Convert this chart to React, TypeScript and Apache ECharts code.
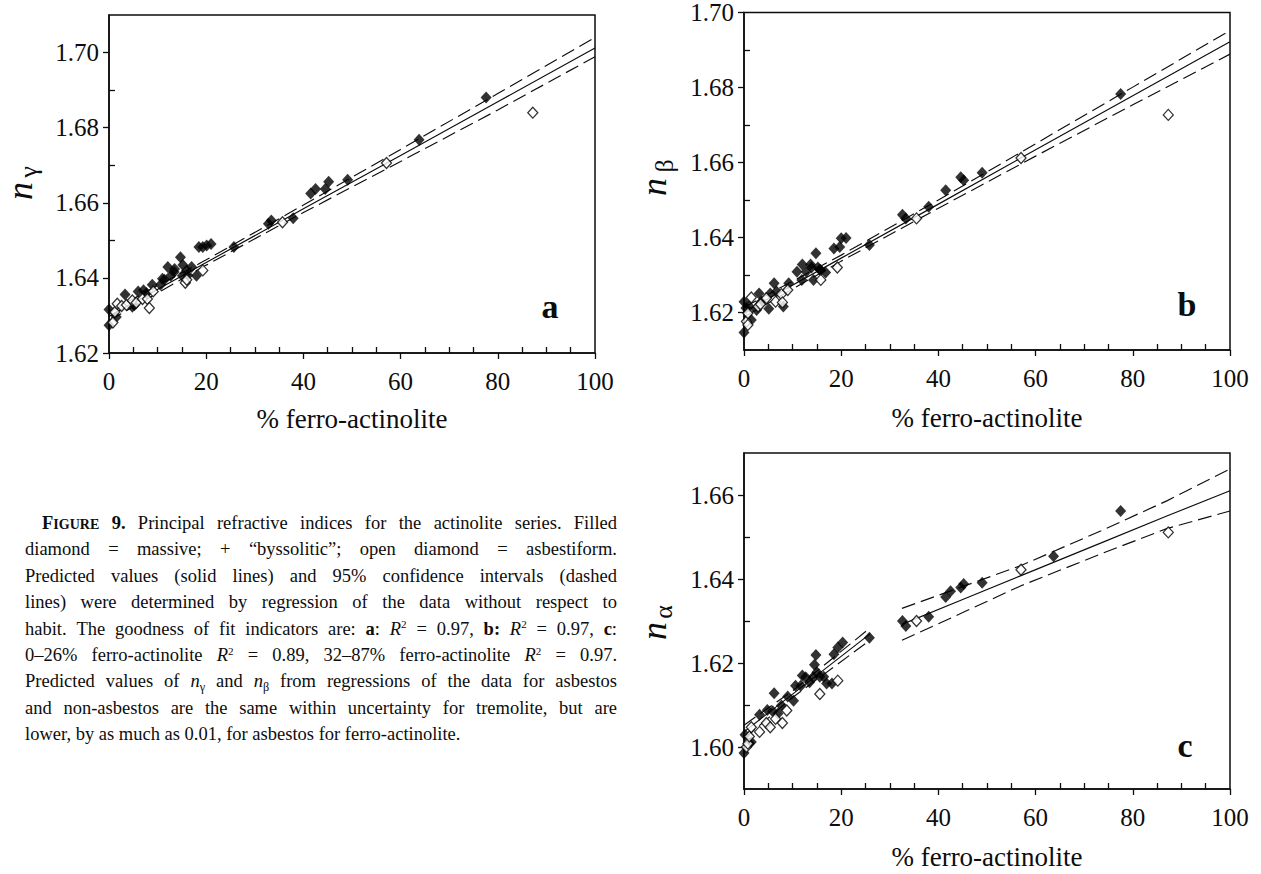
import React, { useEffect, useRef } from "react";
import * as echarts from "echarts";

// ---------------- Panel a : n_gamma ----------------
const aFilled: number[][] = [
  [0, 1.6316], [0, 1.6274], [1.5, 1.6296], [3.3, 1.6356], [4.8, 1.6323], [5.2, 1.6327],
  [6, 1.6364], [7.1, 1.6367], [7.7, 1.636], [8.9, 1.6382], [10.6, 1.6382], [11, 1.6398],
  [11.4, 1.6395], [12.1, 1.6429], [12.7, 1.6406], [13.4, 1.6416], [13.5, 1.6424], [14.7, 1.6455],
  [15.1, 1.6406], [15.2, 1.6434], [16, 1.642], [16.2, 1.6407], [17, 1.6429], [18, 1.6406],
  [18.5, 1.6482], [19.3, 1.6482], [20.1, 1.6486], [21, 1.649], [25.7, 1.6482], [32.8, 1.6544],
  [33.4, 1.6553], [37.9, 1.6559], [41.5, 1.6625], [42.5, 1.6637], [44.5, 1.6637], [45.2, 1.6656],
  [49.1, 1.6661], [63.8, 1.6768], [77.6, 1.688],
];
const aOpen: number[][] = [
  [0.8, 1.6281], [1.2, 1.6309], [1.7, 1.6331], [2.6, 1.6325], [3.6, 1.6328], [4.8, 1.634],
  [5.6, 1.6334], [6.9, 1.6344], [7.9, 1.6344], [8.3, 1.632], [9.1, 1.6364], [15.7, 1.6387],
  [16, 1.6395], [19.3, 1.642], [35.7, 1.6548], [57.1, 1.6706], [87.2, 1.684],
];
const aFitX = [0, 20, 40, 60, 80, 100];
const aFit = [1.6298, 1.6441, 1.6584, 1.6726, 1.6869, 1.7012];
const aUpper = [1.631, 1.6448, 1.6594, 1.6742, 1.6891, 1.704];
const aLower = [1.6286, 1.6434, 1.6574, 1.671, 1.6847, 1.6989];
const aYTicks = [1.62, 1.64, 1.66, 1.68, 1.7];
const aYMinor = [1.63, 1.65, 1.67, 1.69];

// ---------------- Panel b : n_beta ----------------
const bFilled: number[][] = [
  [0, 1.6147], [0, 1.6229], [0.4, 1.6212], [1.1, 1.6216], [1.5, 1.618], [2.6, 1.6207],
  [3.1, 1.6251], [3.6, 1.6229], [5.1, 1.621], [5.4, 1.6251], [6.2, 1.6278], [6.7, 1.6256],
  [8.1, 1.6216], [9.2, 1.6278], [10.9, 1.6309], [11.9, 1.6287], [12, 1.6328], [12.8, 1.6309],
  [13.7, 1.6328], [13.9, 1.632], [14.3, 1.6287], [14.8, 1.6358], [15.2, 1.632], [15.6, 1.6315],
  [15.8, 1.6313], [16.8, 1.6307], [18.5, 1.6371], [19.7, 1.6375], [20, 1.6398], [21, 1.6399],
  [25.8, 1.638], [32.6, 1.6461], [33.3, 1.6451], [38, 1.6482], [41.5, 1.6526], [44.6, 1.6561],
  [45.2, 1.6553], [49, 1.6573], [77.5, 1.6783],
];
const bOpen: number[][] = [
  [0.5, 1.6176], [0.8, 1.6167], [0.8, 1.6198], [1.5, 1.624], [2.9, 1.6216], [3.4, 1.6222],
  [4.6, 1.6238], [6.5, 1.6229], [7.7, 1.6249], [7.9, 1.6227], [9, 1.626], [15.8, 1.6287],
  [19.2, 1.632], [35.5, 1.6451], [57, 1.6612], [87.3, 1.6727],
];
const bFitX = [0, 20, 40, 60, 80, 100];
const bFit = [1.6201, 1.6345, 1.6489, 1.6634, 1.6778, 1.6922];
const bUpper = [1.6214, 1.6353, 1.65, 1.665, 1.6801, 1.6952];
const bLower = [1.6188, 1.6337, 1.6478, 1.6617, 1.6754, 1.6889];
const bYTicks = [1.62, 1.64, 1.66, 1.68, 1.7];
const bYMinor = [1.63, 1.65, 1.67, 1.69];

// ---------------- Panel c : n_alpha ----------------
const cFilled: number[][] = [
  [0, 1.5986], [0.2, 1.6029], [1.1, 1.6009], [1.5, 1.6012], [3.2, 1.6077], [4.8, 1.6088],
  [5.9, 1.6085], [6.2, 1.6128], [7, 1.608], [7.7, 1.6099], [9, 1.612], [10.2, 1.611],
  [10.6, 1.6146], [11.7, 1.6146], [12, 1.617], [12.7, 1.6166], [13.5, 1.6154], [14.2, 1.6166],
  [14.5, 1.6196], [14.8, 1.6219], [15, 1.6178], [15.6, 1.6167], [16.4, 1.6167], [17, 1.6151],
  [18.1, 1.6151], [18.5, 1.6221], [19.3, 1.6237], [20.3, 1.6249], [25.8, 1.626], [32.6, 1.63],
  [33.3, 1.6288], [38, 1.631], [41.5, 1.6357], [42.5, 1.6371], [44.6, 1.638], [45.2, 1.6388],
  [49, 1.6391], [63.7, 1.6454], [77.5, 1.6562],
];
const cOpen: number[][] = [
  [0.5, 1.6], [0.8, 1.6008], [1.1, 1.6025], [1.5, 1.6047], [3.2, 1.6036], [4.6, 1.6057],
  [5.4, 1.6047], [6.5, 1.6067], [7.9, 1.6057], [8.8, 1.6087], [15.6, 1.6126], [19.3, 1.6158],
  [35.5, 1.63], [57, 1.6422], [87.3, 1.6511],
];
const cFit1X = [0, 10, 26];
const cFit1 = [1.6036, 1.6126, 1.627];
const cUpper1 = [1.6052, 1.6134, 1.6284];
const cLower1 = [1.602, 1.6118, 1.6255];
const cFit2X = [32.5, 45, 57, 73.5, 87, 100];
const cFit2 = [1.6292, 1.6351, 1.6408, 1.6486, 1.655, 1.661];
const cUpper2 = [1.633, 1.6382, 1.6432, 1.6515, 1.6586, 1.6662];
const cLower2 = [1.6254, 1.632, 1.6384, 1.646, 1.652, 1.6562];
const cYTicks = [1.6, 1.62, 1.64, 1.66];
const cYMinor = [1.61, 1.63, 1.65];

// ---------------- shared x axis ticks ----------------
const xTicks = [0, 20, 40, 60, 80, 100];
const xMinor = [5, 10, 15, 25, 30, 35, 45, 50, 55, 65, 70, 75, 85, 90, 95];
const xTitle = "% ferro-actinolite";

// ---------------- caption ----------------
type Piece = [string, string];
const captionLines: Piece[][] = [
  [["F", "b"], ["IGURE", "sc"], [" 9.", "b"], [" Principal refractive indices for the actinolite series. Filled", "r"]],
  [["diamond = massive; + \u201cbyssolitic\u201d; open diamond = asbestiform.", "r"]],
  [["Predicted values (solid lines) and 95% confidence intervals (dashed", "r"]],
  [["lines) were determined by regression of the data without respect to", "r"]],
  [
    ["habit. The goodness of fit indicators are: ", "r"], ["a", "b"], [": ", "r"], ["R", "i"], ["2", "sup"],
    [" = 0.97, ", "r"], ["b:", "b"], [" ", "r"], ["R", "i"], ["2", "sup"], [" = 0.97, ", "r"], ["c", "b"], [":", "r"],
  ],
  [
    ["0\u201326% ferro-actinolite ", "r"], ["R", "i"], ["2", "sup"],
    [" = 0.89, 32\u201387% ferro-actinolite ", "r"], ["R", "i"], ["2", "sup"], [" = 0.97.", "r"],
  ],
  [
    ["Predicted values of ", "r"], ["n", "i"], ["\u03b3", "sub"], [" and ", "r"], ["n", "i"], ["\u03b2", "sub"],
    [" from regressions of the data for asbestos", "r"],
  ],
  [["and non-asbestos are the same within uncertainty for tremolite, but are", "r"]],
  [["lower, by as much as 0.01, for asbestos for ferro-actinolite.", "r"]],
];

const INK = "#0d0d0d";
const SERIF = "'Liberation Serif', 'Times New Roman', Times, serif";

const layouts = [
  { left: 109, top: 15, width: 486, height: 338 },
  { left: 744, top: 12, width: 486, height: 338 },
  { left: 744, top: 453, width: 486, height: 336 },
];

const zip = (xs: number[], ys: number[]) => xs.map((x, i) => [x, ys[i]]);

const panels = [
  {
    yMin: 1.62, yMax: 1.71, yTicks: aYTicks, yMinor: aYMinor, filled: aFilled, open: aOpen,
    fits: [{ x: aFitX, mid: aFit, up: aUpper, lo: aLower }],
    letter: "a", greek: "\u03b3", letterPos: [550, 306], nPos: [20, 191], gPos: [28, 172], xNamePos: [352, 419],
  },
  {
    yMin: 1.61, yMax: 1.7, yTicks: bYTicks, yMinor: bYMinor, filled: bFilled, open: bOpen,
    fits: [{ x: bFitX, mid: bFit, up: bUpper, lo: bLower }],
    letter: "b", greek: "\u03b2", letterPos: [1187, 304], nPos: [654, 187], gPos: [664, 166], xNamePos: [987, 418],
  },
  {
    yMin: 1.59, yMax: 1.67, yTicks: cYTicks, yMinor: cYMinor, filled: cFilled, open: cOpen,
    fits: [
      { x: cFit1X, mid: cFit1, up: cUpper1, lo: cLower1 },
      { x: cFit2X, mid: cFit2, up: cUpper2, lo: cLower2 },
    ],
    letter: "c", greek: "\u03b1", letterPos: [1185, 745.5], nPos: [654, 631], gPos: [663, 612], xNamePos: [987, 857],
  },
];

const CAP = { left: 25, width: 592, indent: 17, top: 523, step: 26.4 };
const STY: Record<string, { k: number; w: string; s: string; dy: number }> = {
  r: { k: 1, w: "normal", s: "normal", dy: 0 },
  b: { k: 1, w: "bold", s: "normal", dy: 0 },
  i: { k: 1, w: "normal", s: "italic", dy: 0 },
  sc: { k: 0.76, w: "bold", s: "normal", dy: 0.08 },
  sup: { k: 0.6, w: "normal", s: "normal", dy: -0.23 },
  sub: { k: 0.66, w: "normal", s: "normal", dy: 0.28 },
};

function toWords(line: Piece[]): Piece[][] {
  const words: Piece[][] = [];
  let cur: Piece[] = [];
  for (const [t, k] of line) {
    const parts = t.split(" ");
    parts.forEach((p, idx) => {
      if (idx > 0) {
        if (cur.length) words.push(cur);
        cur = [];
      }
      if (p) cur.push([p, k]);
    });
  }
  if (cur.length) words.push(cur);
  return words;
}

function buildCaption(): any[] {
  const ctx = document.createElement("canvas").getContext("2d") as CanvasRenderingContext2D;
  const fontOf = (key: string, base: number) => {
    const st = STY[key];
    return `${st.s} ${st.w} ${(st.k * base).toFixed(2)}px ${SERIF}`;
  };
  const meas = (t: string, key: string, base: number) => {
    ctx.font = fontOf(key, base);
    return ctx.measureText(t).width;
  };
  const lines = captionLines.map(toWords);
  const wordW = (w: Piece[], b: number) => w.reduce((s, [t, k]) => s + meas(t, k, b), 0);
  const fits = (b: number) =>
    lines.every((ws, li) => {
      if (li === lines.length - 1) return true;
      const avail = CAP.width - (li === 0 ? CAP.indent : 0);
      const sum = ws.reduce((a, w) => a + wordW(w, b), 0);
      return sum + (ws.length - 1) * meas(" ", "r", b) * 0.8 <= avail;
    });
  let base = 18.5;
  while (base > 13 && !fits(base)) base -= 0.25;
  const els: any[] = [];
  lines.forEach((ws, li) => {
    const x0 = CAP.left + (li === 0 ? CAP.indent : 0);
    const avail = CAP.width - (li === 0 ? CAP.indent : 0);
    const sum = ws.reduce((a, w) => a + wordW(w, base), 0);
    const last = li === lines.length - 1;
    const gap = last ? meas(" ", "r", base) : (avail - sum) / Math.max(1, ws.length - 1);
    const y = CAP.top + li * CAP.step;
    let x = x0;
    ws.forEach((w) => {
      w.forEach(([t, k]) => {
        const st = STY[k];
        els.push({
          type: "text",
          x,
          y: y + st.dy * base,
          silent: true,
          style: {
            text: t,
            fill: INK,
            fontFamily: SERIF,
            fontSize: st.k * base,
            fontWeight: st.w,
            fontStyle: st.s,
            textAlign: "left",
            textVerticalAlign: "middle",
            verticalAlign: "middle",
          },
        });
        x += meas(t, k, base);
      });
      x += gap;
    });
  });
  return els;
}

function buildOption(): any {
  const grid: any[] = [];
  const xAxis: any[] = [];
  const yAxis: any[] = [];
  const series: any[] = [];
  const graphic: any[] = [];
  const tickLine = { color: INK, width: 1.3 };

  panels.forEach((p, i) => {
    grid.push({ ...layouts[i], show: true, borderColor: INK, borderWidth: 1.5, backgroundColor: "transparent" });
    xAxis.push({
      type: "value", gridIndex: i, min: 0, max: 100, position: "bottom",
      axisLine: { show: true, onZero: false, lineStyle: { color: INK, width: 1.5 } },
      axisTick: { show: true, inside: false, length: 6, lineStyle: tickLine, customValues: xTicks },
      axisLabel: { show: true, margin: 16, color: INK, fontFamily: SERIF, fontSize: 25, customValues: xTicks, formatter: (v: number) => String(v) },
      splitLine: { show: false },
    });
    xAxis.push({
      type: "value", gridIndex: i, min: 0, max: 100, position: "bottom",
      axisLine: { show: false },
      axisTick: { show: true, inside: true, length: 6, lineStyle: tickLine, customValues: xMinor },
      axisLabel: { show: false },
      splitLine: { show: false },
    });
    yAxis.push({
      type: "value", gridIndex: i, min: p.yMin, max: p.yMax, position: "left",
      axisLine: { show: true, onZero: false, lineStyle: { color: INK, width: 1.5 } },
      axisTick: { show: true, inside: false, length: 6, lineStyle: tickLine, customValues: p.yTicks },
      axisLabel: { show: true, margin: 10, color: INK, fontFamily: SERIF, fontSize: 25, customValues: p.yTicks, formatter: (v: number) => v.toFixed(2) },
      splitLine: { show: false },
    });
    yAxis.push({
      type: "value", gridIndex: i, min: p.yMin, max: p.yMax, position: "left",
      axisLine: { show: false },
      axisTick: { show: true, inside: true, length: 6, lineStyle: tickLine, customValues: p.yMinor },
      axisLabel: { show: false },
      splitLine: { show: false },
    });
    const xi = 2 * i;
    const yi = 2 * i;
    p.fits.forEach((f) => {
      const mk = (ys: number[], dashed: boolean) => ({
        type: "line", xAxisIndex: xi, yAxisIndex: yi, data: zip(f.x, ys), symbol: "none", silent: true, z: 2,
        lineStyle: { color: INK, width: 1.15, type: dashed ? [14, 6] : "solid" },
      });
      series.push(mk(f.mid, false), mk(f.up, true), mk(f.lo, true));
    });
    series.push({
      type: "scatter", xAxisIndex: xi, yAxisIndex: yi, data: p.filled, symbol: "diamond", symbolSize: [11, 12],
      itemStyle: { color: "#000" }, z: 3, silent: true,
    });
    series.push({
      type: "scatter", xAxisIndex: xi, yAxisIndex: yi, data: p.open, symbol: "diamond", symbolSize: [10, 11],
      itemStyle: { color: "#ffffff", borderColor: "#000", borderWidth: 1.3 }, z: 4, silent: true,
    });

    graphic.push({
      type: "text", x: p.letterPos[0], y: p.letterPos[1], silent: true,
      style: { text: p.letter, fill: INK, fontFamily: SERIF, fontSize: 34, fontWeight: "bold", textAlign: "center", textVerticalAlign: "middle", verticalAlign: "middle" },
    });
    graphic.push({
      type: "text", x: p.nPos[0], y: p.nPos[1], rotation: Math.PI / 2, silent: true,
      style: { text: "n", fill: INK, fontFamily: SERIF, fontSize: 36, fontStyle: "italic", textAlign: "center", textVerticalAlign: "middle", verticalAlign: "middle" },
    });
    graphic.push({
      type: "text", x: p.gPos[0], y: p.gPos[1], rotation: Math.PI / 2, silent: true,
      style: { text: p.greek, fill: INK, fontFamily: SERIF, fontSize: 26, textAlign: "center", textVerticalAlign: "middle", verticalAlign: "middle" },
    });
    graphic.push({
      type: "text", x: p.xNamePos[0], y: p.xNamePos[1], silent: true,
      style: { text: xTitle, fill: INK, fontFamily: SERIF, fontSize: 27, textAlign: "center", textVerticalAlign: "middle", verticalAlign: "middle" },
    });
  });

  graphic.push(...buildCaption());

  return { animation: false, backgroundColor: "#ffffff", grid, xAxis, yAxis, series, graphic };
}

export default function App() {
  const ref = useRef<HTMLDivElement>(null);
  useEffect(() => {
    const el = ref.current;
    if (!el) return;
    document.body.style.margin = "0";
    const chart = echarts.init(el, null, { renderer: "svg" });
    chart.setOption(buildOption());
    return () => chart.dispose();
  }, []);
  return (
    <div
      ref={ref}
      style={{ position: "absolute", left: 0, top: 0, width: 1261, height: 874, background: "#fff" }}
    />
  );
}
